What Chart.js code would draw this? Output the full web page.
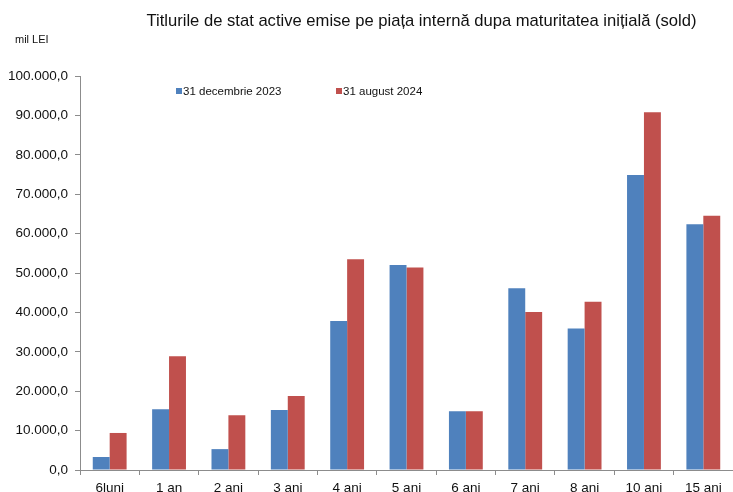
<!DOCTYPE html>
<html lang="ro">
<head>
    <meta charset="UTF-8">
    <title>Titlurile de stat active emise pe piața internă</title>
    <script src="https://cdn.jsdelivr.net/npm/chart.js"></script>
    <style>
        body { margin: 0; background: #fff; font-family: "Liberation Sans", Arial, sans-serif; }
        #wrap { position: relative; width: 733px; height: 492px; }
        #title { position: absolute; left: 0; top: 11px; width: 843px; text-align: center; font-size: 16.6px; color: #111; white-space: nowrap; }
        #unit { position: absolute; left: 15px; top: 33px; font-size: 11px; color: #111; }
        #legend { position: absolute; left: 176px; top: 85px; font-size: 11.5px; color: #111; white-space: nowrap; }
        .item { position: absolute; top: 0; }
        .item i { display: inline-block; width: 6px; height: 6px; margin-right: 1px; vertical-align: 1px; }
    </style>
</head>
<body>
<div id="wrap">
    <canvas id="barChart" width="733" height="492"></canvas>
    <div id="title">Titlurile de stat active emise pe piața internă dupa maturitatea inițială (sold)</div>
    <div id="unit">mil LEI</div>
    <div id="legend"></div>
</div>
<script>
    // data (mil LEI)
    const categories = ['6luni', '1 an', '2 ani', '3 ani', '4 ani', '5 ani', '6 ani', '7 ani', '8 ani', '10 ani', '15 ani'];
    const seriesNames = ['31 decembrie 2023', '31 august 2024'];
    const dec2023 = [3300, 15400, 5300, 15200, 37800, 52000, 14900, 46100, 35900, 74900, 62400];
    const aug2024 = [9400, 28900, 13900, 18800, 53500, 51400, 14900, 40100, 42700, 90800, 64500];
    const colors = ['#4F81BD', '#C0504D'];

    function fmt(v) {
        // 100000 -> 100.000,0
        return Math.round(v).toString().replace(/\B(?=(\d{3})+(?!\d))/g, '.') + ',0';
    }

    // legend (inside plot, like the original)
    const legend = document.getElementById('legend');
    const legendX = [0, 160];
    seriesNames.forEach((name, i) => {
        const el = document.createElement('span');
        el.className = 'item';
        el.style.left = legendX[i] + 'px';
        el.innerHTML = '<i style="background:' + colors[i] + '"></i>' + name;
        legend.appendChild(el);
    });

    const axisColor = '#8c8c8c';
    const tickFont = { family: '"Liberation Sans", Arial, sans-serif', size: 13.5 };

    new Chart(document.getElementById('barChart'), {
        type: 'bar',
        data: {
            labels: categories,
            datasets: [
                { label: seriesNames[0], data: dec2023, backgroundColor: colors[0] },
                { label: seriesNames[1], data: aug2024, backgroundColor: colors[1] }
            ]
        },
        options: {
            responsive: false,
            animation: false,
            layout: { padding: { top: 76, right: 0, bottom: 0, left: 0 } },
            datasets: { bar: { categoryPercentage: 0.57, barPercentage: 1.0 } },
            plugins: { legend: { display: false }, tooltip: { enabled: false }, title: { display: false } },
            scales: {
                x: {
                    grid: { display: true, drawOnChartArea: false, offset: true, tickLength: 5, color: axisColor },
                    border: { color: axisColor, width: 1 },
                    ticks: { color: '#111', font: tickFont, padding: 5, maxRotation: 0 },
                    afterFit: s => { s.height = 22; }
                },
                y: {
                    min: 0,
                    max: 100000,
                    grid: { display: true, drawOnChartArea: false, tickLength: 5, color: axisColor },
                    border: { color: axisColor, width: 1 },
                    ticks: { stepSize: 10000, color: '#111', font: tickFont, padding: 7, callback: v => fmt(v) },
                    afterFit: s => { s.width = 80; }
                }
            }
        }
    });
</script>
</body>
</html>
